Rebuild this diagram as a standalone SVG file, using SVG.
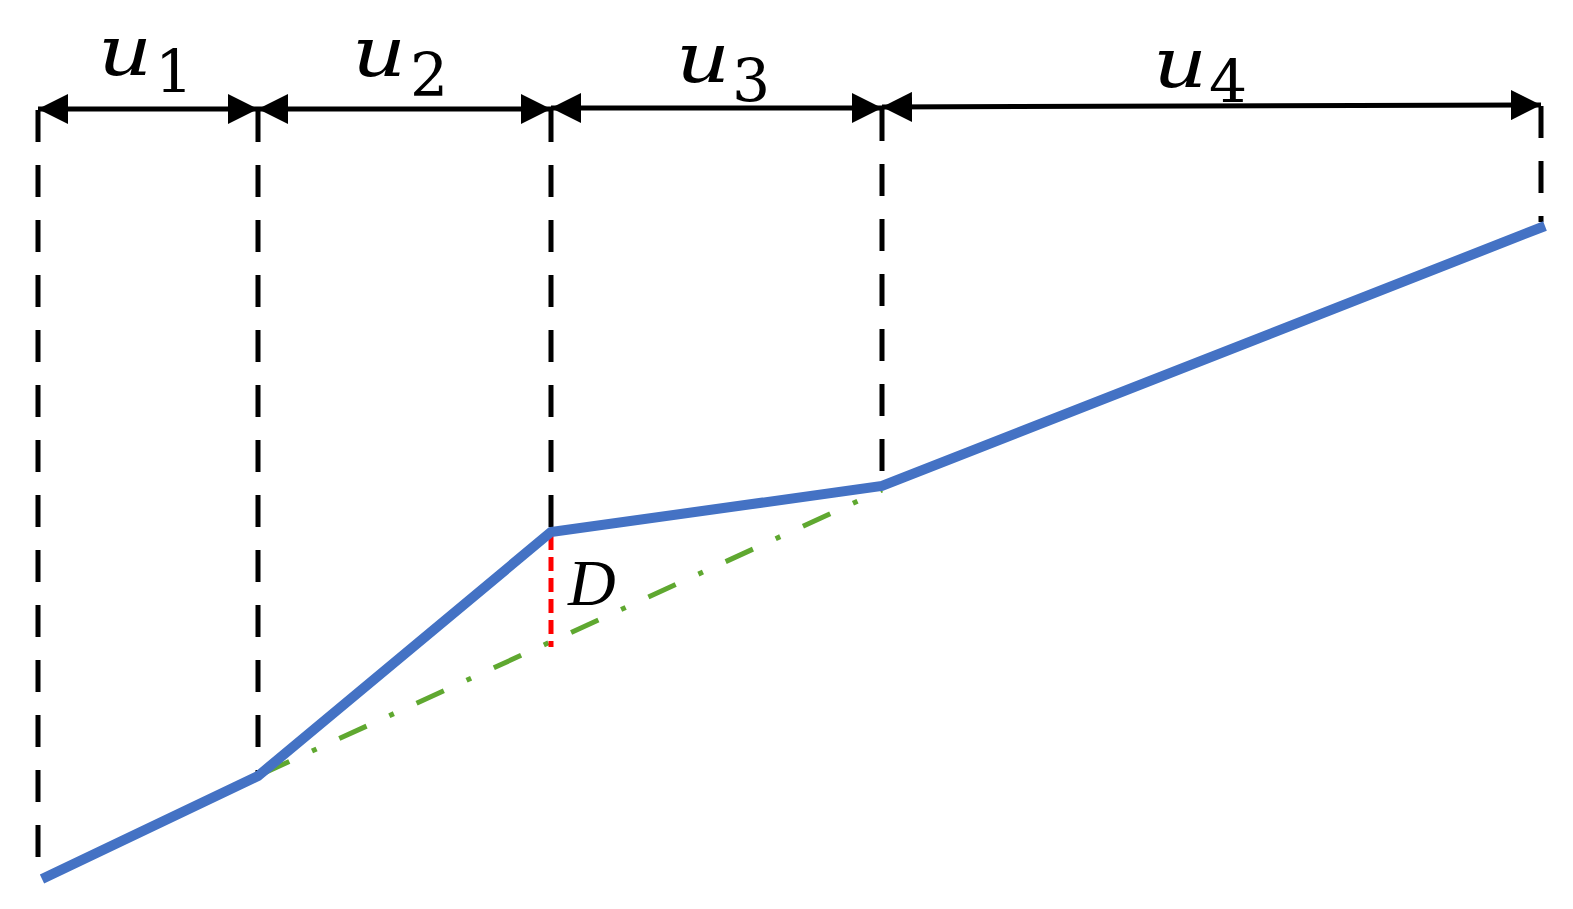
<svg xmlns="http://www.w3.org/2000/svg" width="1573" height="909" viewBox="0 0 1573 909">
<defs>
<marker id="ah" viewBox="0 0 10 10" refX="10" refY="5" markerWidth="6" markerHeight="6" markerUnits="strokeWidth" orient="auto-start-reverse">
<path d="M0,0 L10,5 L0,10 Z" fill="#000"/>
</marker>
<style>
.dim{stroke:#000;stroke-width:5;fill:none}
.vd{stroke:#000;stroke-width:5;stroke-dasharray:32 23;fill:none}
.blue{stroke:#4472C4;stroke-width:10;fill:none;stroke-linejoin:miter}
.green{stroke:#5FA830;stroke-width:5;stroke-dasharray:30 25 5 25;fill:none}
.red{stroke:#FF0000;stroke-width:5;stroke-dasharray:14 7;fill:none}
.lab{font-family:"DejaVu Serif",serif;font-style:italic;font-size:70px;fill:#000}
.sub{font-family:"DejaVu Serif",serif;font-style:normal;font-size:60px;fill:#000}
.dl{font-family:"Liberation Serif",serif;font-style:italic;font-size:66px;fill:#000}
</style>
</defs>
<rect width="1573" height="909" fill="#fff"/>
<g id="connectors">
<line class="vd" x1="38" y1="110" x2="38" y2="858"/>
<line class="vd" x1="258" y1="110" x2="258" y2="776"/>
<line class="vd" x1="551" y1="110" x2="551" y2="532"/>
<line class="vd" x1="882" y1="109" x2="882" y2="487"/>
<line class="vd" x1="1541" y1="106" x2="1541" y2="222"/>
<line class="dim" x1="38" y1="109" x2="258" y2="109" marker-start="url(#ah)" marker-end="url(#ah)"/>
<line class="dim" x1="258" y1="109" x2="551" y2="109" marker-start="url(#ah)" marker-end="url(#ah)"/>
<line class="dim" x1="551" y1="108" x2="882" y2="108" marker-start="url(#ah)" marker-end="url(#ah)"/>
<line class="dim" x1="882" y1="107" x2="1541" y2="105" marker-start="url(#ah)" marker-end="url(#ah)"/>
<line class="green" x1="262" y1="774" x2="882" y2="490"/>
<line class="red" x1="551" y1="536" x2="551" y2="647"/>
<polyline class="blue" points="42,879 258,776 551,532 882,486 1545,226"/>
</g>
<g id="label-u1"><text class="lab" transform="translate(98,75) scale(1.2,1)">u</text><text class="sub" x="155" y="93">1</text></g>
<g id="label-u2"><text class="lab" transform="translate(352,76) scale(1.2,1)">u</text><text class="sub" x="410" y="96">2</text></g>
<g id="label-u3"><text class="lab" transform="translate(676,82) scale(1.2,1)">u</text><text class="sub" x="732" y="102">3</text></g>
<g id="label-u4"><text class="lab" transform="translate(1153,87) scale(1.2,1)">u</text><text class="sub" x="1209" y="103">4</text></g>
<g id="label-D"><text class="dl" x="568" y="605">D</text></g>
</svg>
